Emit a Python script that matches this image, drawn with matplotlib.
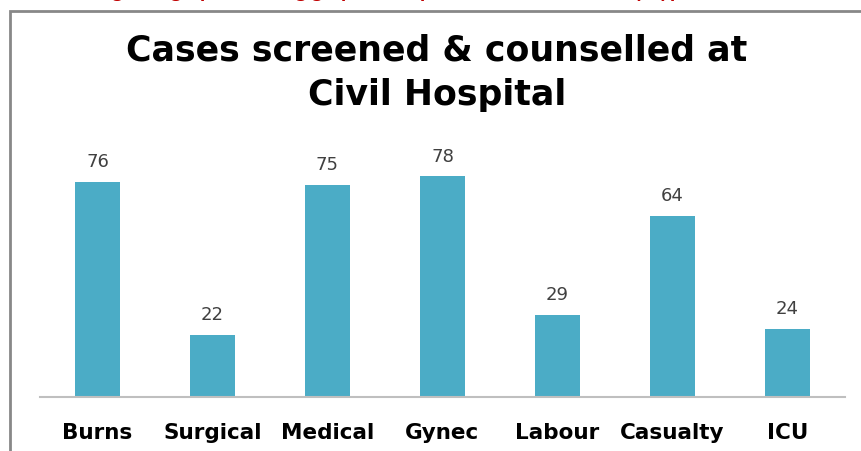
import matplotlib
matplotlib.use("Agg")
import matplotlib.pyplot as plt
from matplotlib.patches import Rectangle

categories = ["Burns", "Surgical", "Medical", "Gynec", "Labour", "Casualty", "ICU"]
values = [76, 22, 75, 78, 29, 64, 24]
title = "Cases screened & counselled at\nCivil Hospital"
caption = "Fig: Bar graph showing graphical representation of cases by type"

W, H = 862, 451
fig = plt.figure(figsize=(W / 100, H / 100), dpi=100)
fig.patch.set_facecolor("white")

# chart frame (extends past the right/bottom edges)
fig.patches.append(Rectangle((10 / W, -0.05), 1.0, (H - 11) / H + 0.05,
                             transform=fig.transFigure, fill=False,
                             edgecolor="#888888", linewidth=2))

# red caption above the chart, only its descenders remain visible
fig.text(95 / W, 1.0 + 2.5 / H, caption, ha="left", va="baseline", color="#C00000",
         fontsize=15, fontweight="bold", family="Lato")

fig.text(437 / W, 1 - 73 / H, title, ha="center", va="center", fontsize=25,
         fontweight="bold", family="DejaVu Sans", linespacing=1.38, color="black")

ax_bottom = (H - 397) / H
ax_height = 277 / H
ax = fig.add_axes([40 / W, ax_bottom, 805 / W, ax_height])
x = list(range(len(categories)))
ax.bar(x, values, width=0.39, color="#4BACC6")
ax.set_xlim(-0.5, len(categories) - 0.5)
ax.set_ylim(0, 277 / 2.83)
for xi, v in zip(x, values):
    ax.text(xi, v + 3.8, str(v), ha="center", va="bottom", fontsize=13,
            color="#404040", family="DejaVu Sans")
ax.set_xticks(x)
ax.set_xticklabels(categories, fontsize=15.5, fontweight="bold", family="DejaVu Sans")
ax.tick_params(axis="x", length=0, pad=19)
ax.set_yticks([])
for s in ["top", "right", "left"]:
    ax.spines[s].set_visible(False)
ax.spines["bottom"].set_color("#BFBFBF")
ax.spines["bottom"].set_linewidth(1.5)
ax.patch.set_alpha(0)

fig.savefig("out.png", dpi=100)
